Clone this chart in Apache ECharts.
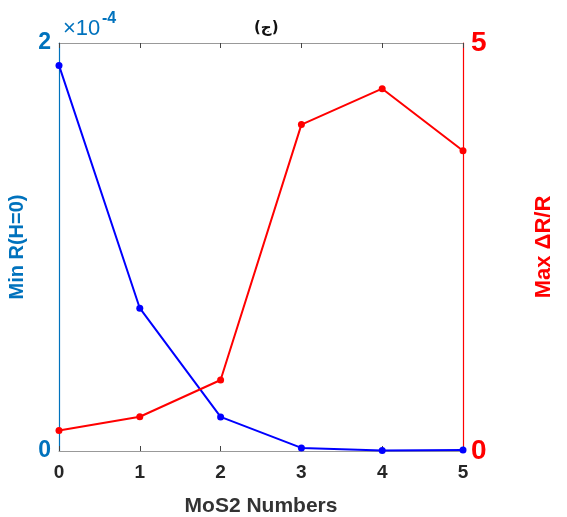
<!DOCTYPE html>
<html>
<head>
<meta charset="utf-8">
<script src="https://cdn.jsdelivr.net/npm/echarts@6/dist/echarts.min.js"></script>
<style>html,body{margin:0;padding:0;background:#fff}#main{width:567px;height:517px}</style>
</head>
<body>
<div id="main"></div>
<script>
// 数据
let mos2 = ['0', '1', '2', '3', '4', '5'];
let minR = [1.89, 0.70, 0.167, 0.015, 0.003, 0.005]; // ×10^-4
let maxDR = [0.25, 0.42, 0.87, 4.0, 4.44, 3.68];
let font = '"Liberation Sans", Arial, sans-serif';

let chart = echarts.init(document.getElementById('main'));
chart.setOption({
    animation: false,
    backgroundColor: '#fff',
    title: {
        text: '(ج)', left: 249, top: 16,
        textStyle: {fontFamily: '"DejaVu Sans", sans-serif', fontSize: 15, fontWeight: 'bold', color: '#111'}
    },
    grid: {left: 59, right: 104, top: 43, bottom: 66, outerBoundsMode: 'none', containLabel: false},
    graphic: [{
        type: 'text', left: 63, top: 18,
        style: {text: '×10', fontFamily: font, fontSize: 22, fill: '#0072BD'}
    }, {
        type: 'text', left: 102, top: 11,
        style: {text: '-4', fontFamily: font, fontSize: 16, fontWeight: 'bold', fill: '#0072BD'}
    }],
    xAxis: [{
        type: 'category', data: mos2, boundaryGap: false,
        name: 'MoS2 Numbers', nameLocation: 'middle', nameGap: 45,
        nameTextStyle: {fontFamily: font, fontSize: 21, fontWeight: 'bold', color: '#333'},
        axisLine: {onZero: false, lineStyle: {color: '#999', width: 1}},
        axisTick: {inside: true, length: 5, lineStyle: {color: '#444'}},
        axisLabel: {fontFamily: font, fontSize: 19, fontWeight: 'bold', color: '#262626', margin: 12},
        splitLine: {show: false}
    }, {
        type: 'category', data: mos2, boundaryGap: false, position: 'top',
        axisLine: {onZero: false, lineStyle: {color: '#999', width: 1}},
        axisTick: {inside: true, length: 5, lineStyle: {color: '#444'}},
        axisLabel: {show: false},
        splitLine: {show: false}
    }],
    yAxis: [{
        type: 'value', min: 0, max: 2, interval: 2,
        name: 'Min R(H=0)', nameLocation: 'middle', nameGap: 20,
        nameTextStyle: {fontFamily: font, fontSize: 20, fontWeight: 'bold', color: '#0072BD'},
        axisLine: {show: true, lineStyle: {color: '#0072BD', width: 1.2}},
        axisTick: {show: false},
        axisLabel: {fontFamily: font, fontSize: 23, fontWeight: 'bold', color: '#0072BD', margin: 8},
        splitLine: {show: false}
    }, {
        type: 'value', min: 0, max: 5, interval: 5,
        name: 'Max ΔR/R', nameLocation: 'middle', nameGap: 70,
        nameTextStyle: {fontFamily: font, fontSize: 22, fontWeight: 'bold', color: '#FF0000'},
        axisLine: {show: true, lineStyle: {color: '#FF0000', width: 1.2}},
        axisTick: {show: false},
        axisLabel: {fontFamily: font, fontSize: 28, fontWeight: 'bold', color: '#FF0000', margin: 8},
        splitLine: {show: false}
    }],
    series: [{
        type: 'line', data: minR, yAxisIndex: 0,
        symbol: 'circle', symbolSize: 7,
        lineStyle: {color: '#0000FF', width: 2},
        itemStyle: {color: '#0000FF'}
    }, {
        type: 'line', data: maxDR, yAxisIndex: 1,
        symbol: 'circle', symbolSize: 7,
        lineStyle: {color: '#FF0000', width: 2},
        itemStyle: {color: '#FF0000'}
    }]
});
</script>
</body>
</html>
